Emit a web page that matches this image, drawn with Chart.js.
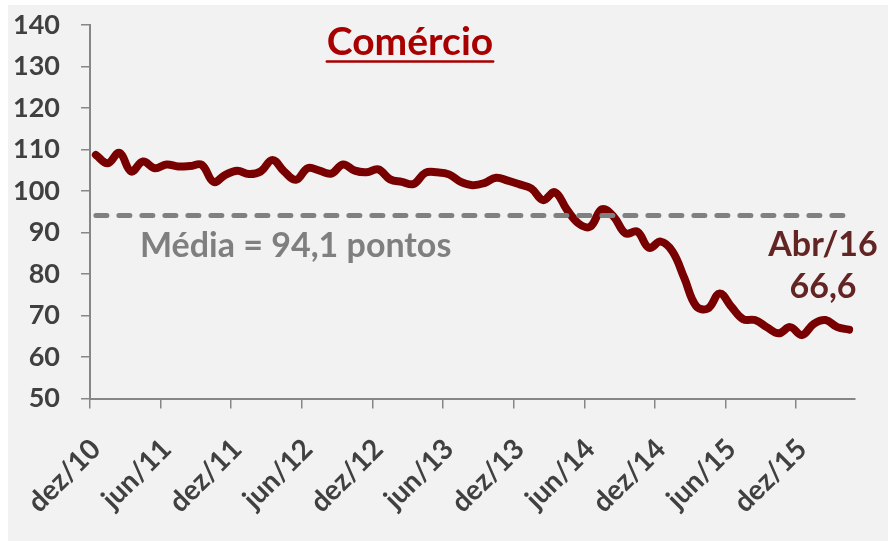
<!DOCTYPE html>
<html>
<head>
<meta charset="utf-8">
<script src="https://cdn.jsdelivr.net/npm/chart.js@4.4.1/dist/chart.umd.min.js"></script>
<style>
  html, body { margin: 0; padding: 0; background: #ffffff; }
  #wrap { width: 888px; height: 541px; position: relative; }
</style>
</head>
<body>
<div id="wrap"><canvas id="grafico" width="888" height="541"></canvas></div>
<script>
// meses de dez/10 a abr/16
const meses = [
  'dez/10',
  'jan/11', 'fev/11', 'mar/11', 'abr/11', 'mai/11', 'jun/11', 'jul/11', 'ago/11', 'set/11', 'out/11', 'nov/11', 'dez/11',
  'jan/12', 'fev/12', 'mar/12', 'abr/12', 'mai/12', 'jun/12', 'jul/12', 'ago/12', 'set/12', 'out/12', 'nov/12', 'dez/12',
  'jan/13', 'fev/13', 'mar/13', 'abr/13', 'mai/13', 'jun/13', 'jul/13', 'ago/13', 'set/13', 'out/13', 'nov/13', 'dez/13',
  'jan/14', 'fev/14', 'mar/14', 'abr/14', 'mai/14', 'jun/14', 'jul/14', 'ago/14', 'set/14', 'out/14', 'nov/14', 'dez/14',
  'jan/15', 'fev/15', 'mar/15', 'abr/15', 'mai/15', 'jun/15', 'jul/15', 'ago/15', 'set/15', 'out/15', 'nov/15', 'dez/15',
  'jan/16', 'fev/16', 'mar/16', 'abr/16'
];

// indice de confianca - comercio
const comercio = [
  108.7,
  106.7, 109.2, 104.7, 107.1, 105.5, 106.4, 105.9, 106.0, 106.3, 102.2, 103.9, 104.9,
  104.1, 104.7, 107.5, 104.7, 102.7, 105.5, 104.9, 104.2, 106.4, 104.9, 104.5, 105.2,
  102.8, 102.2, 101.7, 104.4, 104.5, 104.0, 102.2, 101.4, 101.9, 103.2, 102.5, 101.6,
  100.6, 97.8, 99.7, 95.6, 92.2, 91.4, 95.6, 93.8, 89.8, 90.2, 86.3, 87.8,
  85.4, 79.0, 72.3, 71.7, 75.3, 72.1, 69.1, 68.9, 67.2, 65.7, 67.2, 65.3,
  68.0, 68.9, 67.2, 66.6
];

const media = 94.1;
const yTicks = [50, 60, 70, 80, 90, 100, 110, 120, 130, 140];

const fonte = 'Lato, "Open Sans", sans-serif';

const textos = {
    id: 'textos',
    beforeDraw(chart) {
        const ctx = chart.ctx;
        ctx.save();
        ctx.fillStyle = '#ffffff';
        ctx.fillRect(0, 0, chart.width, chart.height);
        ctx.fillStyle = '#f2f2f2';
        ctx.fillRect(8, 5, chart.width - 8, chart.height - 5);
        ctx.restore();
    },
    afterDatasetsDraw(chart) {
        const ctx = chart.ctx;
        const x = chart.scales.x;
        const y = chart.scales.y;

        // linha da media
        const yMedia = y.getPixelForValue(media);
        ctx.save();
        ctx.strokeStyle = '#808080';
        ctx.lineWidth = 5;
        ctx.lineCap = 'round';
        ctx.setLineDash([11, 12]);
        ctx.beginPath();
        ctx.moveTo(x.getPixelForValue(0), yMedia);
        ctx.lineTo(x.getPixelForValue(meses.length - 1), yMedia);
        ctx.stroke();
        ctx.setLineDash([]);

        // titulo
        ctx.fillStyle = '#a80000';
        ctx.font = 'bold 39px ' + fonte;
        ctx.textAlign = 'center';
        ctx.textBaseline = 'alphabetic';
        ctx.fillText('Comércio', 410, 55);
        const w = ctx.measureText('Comércio').width;
        ctx.strokeStyle = '#a80000';
        ctx.lineWidth = 2.5;
        ctx.beginPath();
        ctx.moveTo(410 - w / 2, 61.5);
        ctx.lineTo(410 + w / 2, 61.5);
        ctx.stroke();

        ctx.fillStyle = '#7f7f7f';
        ctx.font = 'bold 34px ' + fonte;
        ctx.textAlign = 'left';
        ctx.fillText('Média = ' + media.toFixed(1).replace('.', ',') + ' pontos', 140, 257);

        const ultimo = comercio[comercio.length - 1];
        ctx.fillStyle = '#632523';
        ctx.textAlign = 'center';
        ctx.fillText('Abr/16', 823, 256);
        ctx.fillText(ultimo.toFixed(1).replace('.', ','), 823, 298);
        ctx.restore();
    }
};

const ctx = document.getElementById('grafico').getContext('2d');
const chart = new Chart(ctx, {
    type: 'line',
    data: {
        labels: meses,
        datasets: [{
            label: 'Comércio',
            data: comercio,
            borderColor: '#780000',
            borderWidth: 8,
            borderCapStyle: 'round',
            borderJoinStyle: 'round',
            tension: 0.4,
            pointRadius: 0,
            fill: false
        }]
    },
    options: {
        responsive: false,
        animation: false,
        layout: { padding: { top: 25, right: 33, bottom: 0, left: 0 } },
        plugins: {
            legend: { display: false },
            tooltip: { enabled: false }
        },
        scales: {
            x: {
                type: 'category',
                offset: true,
                afterFit(scale) {
                    scale.height = 142.5;
                    scale.paddingLeft = 0;
                    scale.paddingRight = 0;
                },
                grid: {
                    offset: true,
                    drawOnChartArea: false,
                    tickLength: 10,
                    lineWidth: 1.5,
                    color: (c) => (c.index % 6 === 0 ? '#868686' : 'rgba(0,0,0,0)')
                },
                border: { display: true, color: '#868686', width: 2 },
                ticks: {
                    autoSkip: false,
                    maxRotation: 45,
                    minRotation: 45,
                    padding: 24,
                    color: '#404040',
                    font: { family: fonte, size: 28, weight: 'bold' },
                    callback: function(val, i) { return i % 6 === 0 ? meses[i] : ''; }
                }
            },
            y: {
                min: 50,
                max: 140,
                afterFit(scale) {
                    scale.width = 90;
                    scale.paddingTop = 0;
                    scale.paddingBottom = 0;
                },
                afterBuildTicks(scale) { scale.ticks = yTicks.map(v => ({ value: v })); },
                grid: {
                    drawOnChartArea: false,
                    tickLength: 9,
                    lineWidth: 1.5,
                    color: '#868686'
                },
                border: { display: true, color: '#868686', width: 2 },
                ticks: {
                    padding: 21,
                    color: '#404040',
                    font: { family: fonte, size: 27, weight: 'bold' }
                }
            }
        }
    },
    plugins: [textos]
});
</script>
</body>
</html>
